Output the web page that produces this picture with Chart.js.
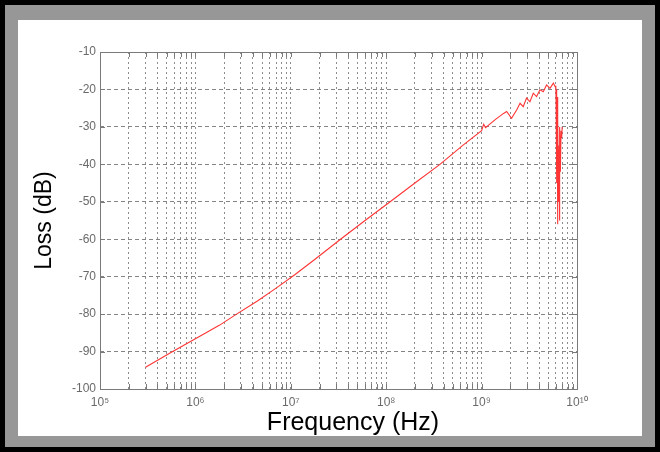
<!DOCTYPE html>
<html>
<head>
<meta charset="utf-8">
<script src="https://cdn.jsdelivr.net/npm/chart.js@4.4.1/dist/chart.umd.min.js"></script>
<style>
  html, body { margin: 0; padding: 0; }
  body { width: 660px; height: 452px; background: #000; position: relative; overflow: hidden; }
  #band { position: absolute; left: 5px; top: 5px; width: 650px; height: 442px; background: #979797; }
  #paper { position: absolute; left: 18px; top: 20px; width: 624px; height: 416px; background: #fff; }
  #loss-chart { position: absolute; left: 0; top: 0; }
</style>
</head>
<body>
<div id="band"></div>
<div id="paper"></div>
<canvas id="loss-chart" width="660" height="452"></canvas>
<script>
const freqHz = [
  3e5, 5.6e5, 1e6, 1.78e6, 2.7e6, 4.47e6, 7.08e6, 1.1e7, 1.78e7, 3.4e7, 6e7, 1.1e8, 2e8, 3.66e8, 6.3e8,
  1.0e9, 1.05e9, 1.1e9, 1.4e9, 1.7e9, 1.83e9, 2.06e9, 2.33e9, 2.53e9, 2.73e9, 2.96e9, 3.21e9,
  3.48e9, 3.77e9, 4.09e9, 4.43e9, 4.8e9, 5.21e9, 5.65e9, 5.9e9,
  6.0e9, 6.05e9, 6.1e9, 6.15e9, 6.2e9, 6.25e9, 6.3e9, 6.4e9, 6.5e9, 6.55e9, 6.6e9, 6.7e9, 6.8e9, 6.9e9, 7.0e9
]
const lossDb = [
  -94.2, -90.2, -86.6, -83, -80, -76.5, -73, -69.5, -65.4, -59.8, -55, -50, -45, -40, -35,
  -31, -29.3, -30.2, -28, -26.4, -25.9, -27.7, -25.5, -23.7, -24.6, -22.3, -23.3,
  -21, -21.9, -20.1, -20.6, -18.8, -19.7, -18.3, -19.3,
  -19, -25, -20, -45, -22, -56, -28, -50, -35, -55, -30, -42, -31, -33, -30
]

// Axis setup
const yTicks = [-100, -90, -80, -70, -60, -50, -40, -30, -20, -10]
const xDecades = [5, 6, 7, 8, 9, 10]
const superDigits = { '0': '\u2070', '1': '\u00b9', '5': '\u2075', '6': '\u2076', '7': '\u2077', '8': '\u2078', '9': '\u2079' }

function expLabel(e) {
  return '10' + String(e).split('').map((d) => superDigits[d]).join('')
}

// Frame box, inner ticks and the x axis title
const framePlugin = {
  id: 'frame',
  afterDraw(chart) {
    const { ctx, chartArea: a, scales } = chart
    ctx.save()
    ctx.strokeStyle = '#7a7a7a'
    ctx.lineWidth = 1
    ctx.strokeRect(a.left + 0.5, a.top + 0.5, a.right - a.left, a.bottom - a.top)
    ctx.beginPath()
    scales.x.ticks.forEach((t) => {
      const px = Math.round(scales.x.getPixelForValue(t.value)) + 0.5
      ctx.moveTo(px, a.top); ctx.lineTo(px, a.top + 5)
      ctx.moveTo(px, a.bottom); ctx.lineTo(px, a.bottom - 5)
    })
    yTicks.forEach((v) => {
      const py = Math.round(scales.y.getPixelForValue(v)) + 0.5
      ctx.moveTo(a.left, py); ctx.lineTo(a.left + 5, py)
      ctx.moveTo(a.right, py); ctx.lineTo(a.right - 5, py)
    })
    ctx.stroke()
    ctx.fillStyle = '#000'
    ctx.font = '25px Arial, "Liberation Sans", sans-serif'
    ctx.textAlign = 'center'
    ctx.textBaseline = 'alphabetic'
    ctx.fillText('Frequency (Hz)', 353, 430)
    ctx.restore()
  },
}

new Chart(document.getElementById('loss-chart'), {
  type: 'line',
  data: {
    datasets: [
      {
        data: freqHz.map((f, i) => ({ x: f, y: lossDb[i] })),
        borderColor: '#ff3434',
        borderWidth: 1.1,
        pointRadius: 0,
        tension: 0,
        fill: false,
      },
    ],
  },
  options: {
    responsive: false,
    animation: false,
    layout: { padding: { top: 52, right: 83, bottom: 0, left: 0 } },
    plugins: { legend: { display: false }, tooltip: { enabled: false } },
    scales: {
      x: {
        type: 'logarithmic',
        min: 1e5,
        max: 1e10,
        afterFit(scale) {
          scale.height = 63
          scale.paddingLeft = 0
          scale.paddingRight = 0
        },
        afterBuildTicks(scale) {
          const ticks = []
          xDecades.forEach((e) => {
            const top = e === 10 ? 1 : 9
            for (let m = 1; m <= top; m++) ticks.push({ value: m * Math.pow(10, e) })
          })
          scale.ticks = ticks
        },
        ticks: {
          autoSkip: false,
          maxRotation: 0,
          padding: 6,
          color: '#6a6a6a',
          font: { family: 'Arial, "Liberation Sans", sans-serif', size: 12 },
          callback: (value) => {
            const e = Math.log10(value)
            return Math.abs(e - Math.round(e)) < 1e-9 ? expLabel(Math.round(e)) : ''
          },
        },
        grid: { color: 'rgba(80, 80, 80, 0.65)', lineWidth: 1, drawTicks: false },
        border: { display: false, dash: [2, 3] },
        title: { display: false },
      },
      y: {
        min: -100,
        max: -10,
        afterFit(scale) {
          scale.width = 100
        },
        afterBuildTicks(scale) {
          scale.ticks = yTicks.map((v) => ({ value: v }))
        },
        ticks: {
          padding: 4,
          color: '#6a6a6a',
          font: { family: 'Arial, "Liberation Sans", sans-serif', size: 12 },
        },
        grid: { color: 'rgba(80, 80, 80, 0.7)', lineWidth: 1, drawTicks: false },
        border: { display: false, dash: [4, 3] },
        title: {
          display: true,
          text: 'Loss (dB)',
          color: '#000',
          font: { family: 'Arial, "Liberation Sans", sans-serif', size: 23 },
          padding: { top: 31, bottom: 0 },
        },
      },
    },
  },
  plugins: [framePlugin],
})
</script>
</body>
</html>
